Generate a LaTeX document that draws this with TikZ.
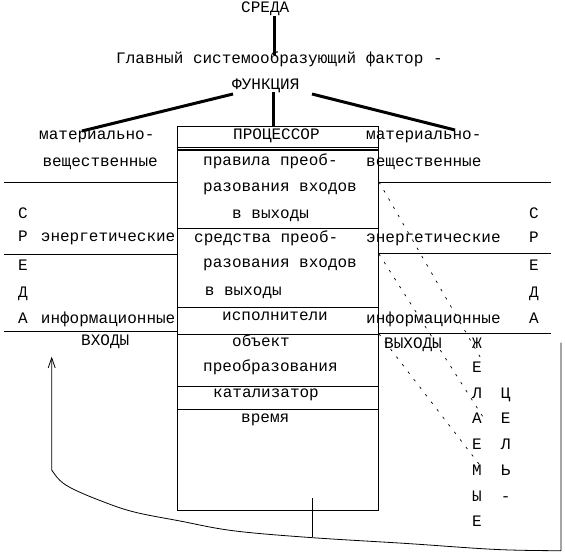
\documentclass[tikz,border=0pt]{standalone}
\usepackage{fontspec}
\setmainfont{Liberation Mono}
\usetikzlibrary{arrows.meta}
\begin{document}
\begin{tikzpicture}[x=1pt,y=-1pt,
  txt/.style={anchor=base west,inner sep=0pt,font=\fontsize{16}{19}\selectfont},
  heavyln/.style={line width=3pt},
  ruleln/.style={line width=0.8pt},
  dashln/.style={line width=0.7pt,dash pattern=on 2.5pt off 7pt},
  fbln/.style={line width=0.8pt}]
\useasboundingbox (0,0) rectangle (565,555);

% top texts
\node[txt] (sreda) at (241,12.5) {СРЕДА};
\node[txt] (glav) at (116,63.5) {Главный системообразующий фактор -};
\node[txt] (func) at (232,89.5) {ФУНКЦИЯ};

% thick connectors
\coordinate (s1) at (274,16);
\coordinate (s2) at (274,55);
\coordinate (f0) at (273,92);
\coordinate (f1) at (273,126);
\coordinate (fl0) at (233,94);
\coordinate (fl1) at (82,131);
\coordinate (fr0) at (312,94);
\coordinate (fr1) at (455,130);
\draw[heavyln] (s1) -- (s2);
\draw[heavyln] (f0) -- (f1);
\draw[heavyln] (fl0) -- (fl1);
\draw[heavyln] (fr0) -- (fr1);

% processor box
\draw[ruleln] (177.3,126) rectangle (378,510);
\draw[ruleln] (177.3,147) -- (378,147);
\draw[line width=2.2pt] (177.3,150.2) -- (378,150.2);
\foreach \yy in {228.3,307.3,334,386,409.3}
  \draw[ruleln] (177.3,\yy) -- (378,\yy);

% external horizontal lines
\foreach \yy in {182,254.7,331.5}
  \draw[ruleln] (4,\yy) -- (177.3,\yy);
\foreach \yy in {182,253.5,333.8}
  \draw[ruleln] (378,\yy) -- (551,\yy);

% left texts
\node[txt] (lmat) at (39,139) {материально-};
\node[txt] (lves) at (42.3,166) {вещественные};
\node[txt] (lS) at (18,218) {С};
\node[txt] (lR) at (18,241.5) {Р};
\node[txt] (lener) at (40.7,241.5) {энергетические};
\node[txt] (lE) at (18,270) {Е};
\node[txt] (lD) at (18,297) {Д};
\node[txt] (lA) at (18,323) {А};
\node[txt] (linf) at (40.7,323) {информационные};
\node[txt] (vhody) at (81,345) {ВХОДЫ};

% box texts
\node[txt] (proc) at (233,139.3) {ПРОЦЕССОР};
\node[txt] (b1) at (203,165.5) {правила преоб-};
\node[txt] (b2) at (203,191.5) {разования входов};
\node[txt] (b3) at (232,218) {в выходы};
\node[txt] (b4) at (194,242) {средства преоб-};
\node[txt] (b5) at (203,267) {разования входов};
\node[txt] (b6) at (204.7,295) {в выходы};
\node[txt] (b7) at (222,320.5) {исполнители};
\node[txt] (b8) at (232,346) {объект};
\node[txt] (b9) at (203,371) {преобразования};
\node[txt] (b10) at (213,397.5) {катализатор};
\node[txt] (b11) at (241,422.5) {время};

% right texts
\node[txt] (rmat) at (366,139) {материально-};
\node[txt] (rves) at (366,166) {вещественные};
\node[txt] (rener) at (366,242) {энергетические};
\node[txt] (rinf) at (366,323) {информационные};
\node[txt] (rS) at (529,218) {С};
\node[txt] (rR) at (529,242) {Р};
\node[txt] (rE) at (529,270) {Е};
\node[txt] (rD) at (529,297) {Д};
\node[txt] (rA) at (529,323) {А};
\node[txt] (vyhody) at (384,348) {ВЫХОДЫ};

% vertical words
\foreach \ch/\yy [count=\i] in {Ж/348,Е/372,Л/398,А/423.5,Е/449.5,М/475,Ы/501,Е/526}
  \node[txt] (w\i) at (472,\yy) {\ch};
\foreach \ch/\yy [count=\i] in {Ц/398,Е/423.5,Л/449.5,Ь/475,-/501}
  \node[txt] (c\i) at (500.7,\yy) {\ch};

% dashed lines
\coordinate (d1a) at (379,182);
\coordinate (d1b) at (483,362);
\coordinate (d2a) at (379,254);
\coordinate (d2b) at (483,417);
\coordinate (d3a) at (379,334);
\coordinate (d3b) at (479,464);
\draw[dashln] (d1a) -- (d1b);
\draw[dashln] (d2a) -- (d2b);
\draw[dashln] (d3a) -- (d3b);

% bottom tick
\coordinate (t0) at (312.3,498);
\coordinate (t1) at (312.3,536.5);
\draw[ruleln] (t0) -- (t1);

% feedback connector
\coordinate (fbA) at (561,342.7);
\coordinate (fbB) at (561,550.7);
\coordinate (fbC) at (51.7,356.7);
\draw[fbln,-{Straight Barb[length=10pt,width=7pt]}] (fbA) -- (fbB)
  -- plot[smooth,tension=0.6] coordinates {(561,550.7) (497,549.5) (407,543.5) (310,537.5) (233,530.7) (180,521) (133,511.7) (100,500.5) (73,489) (60,480.5) (51.7,470)}
  -- (fbC);
\end{tikzpicture}
\end{document}
